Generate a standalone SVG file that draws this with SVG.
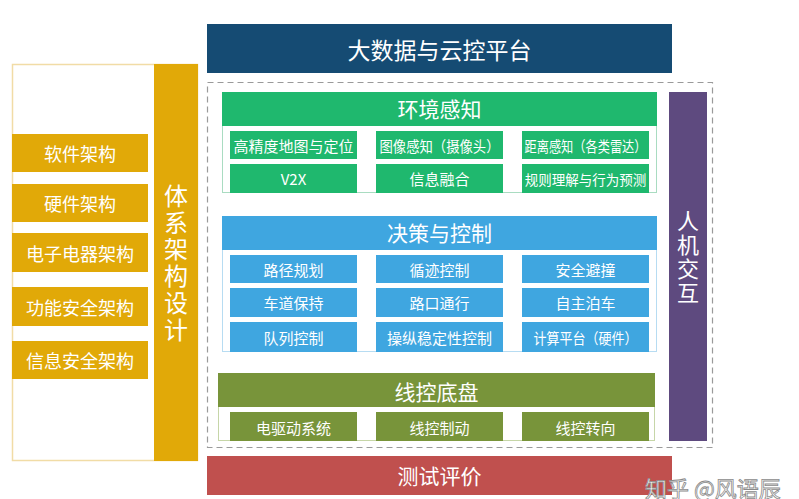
<svg xmlns="http://www.w3.org/2000/svg" width="799" height="499" viewBox="0 0 799 499">
<style>
text{font-family:"Noto Sans CJK SC","Noto Sans",sans-serif;fill:#fff;text-anchor:middle;dominant-baseline:central}
.h{font-size:21px}
.s{font-size:15px}
.l{font-size:18px}
.vt{writing-mode:vertical-rl;text-orientation:upright}
.g{fill:#1fb86e}
.b{fill:#3fa6e0}
.o{fill:#78943a}
.y{fill:#e1a908}
</style>
<rect width="799" height="499" fill="#fff"/>
<g id="arch">
<rect x="12.5" y="64.5" width="185" height="396" fill="#fff" stroke="#f1dca6" stroke-width="1.5"/>
<rect class="y" x="154" y="64" width="44" height="397"/>
<text class="vt" x="176" y="264" style="font-size:24px;letter-spacing:2.7px">体系架构设计</text>
</g>
<g id="soft"><rect class="y" x="12" y="134" width="136" height="38"/><text class="l" x="80" y="153">软件架构</text></g>
<g id="hard"><rect class="y" x="12" y="184" width="136" height="38"/><text class="l" x="80" y="203">硬件架构</text></g>
<g id="ee"><rect class="y" x="12" y="233" width="136" height="39"/><text class="l" x="80" y="252.5">电子电器架构</text></g>
<g id="fs"><rect class="y" x="12" y="287" width="136" height="39"/><text class="l" x="80" y="306.5">功能安全架构</text></g>
<g id="is"><rect class="y" x="12" y="341" width="136" height="38"/><text class="l" x="80" y="360">信息安全架构</text></g>

<g id="cloud"><rect x="207" y="24" width="465" height="49" fill="#154b73"/><text x="439.5" y="48.5" style="font-size:23px">大数据与云控平台</text></g>

<rect x="207.5" y="82.5" width="505" height="365" fill="none" stroke="#9a9a9a" stroke-width="1.2" stroke-dasharray="6 4"/>

<g id="perception">
<rect x="222.5" y="92.5" width="434" height="100" fill="#fff" stroke="#a9dcc1"/>
<rect class="g" x="222" y="92" width="435" height="34"/>
<text class="h" x="439.5" y="108">环境感知</text>
<rect class="g" x="230" y="131" width="127" height="28"/><text class="s" x="293.5" y="145">高精度地图与定位</text>
<rect class="g" x="376" y="131" width="127" height="28"/><text class="s" x="439.5" y="145" textLength="120" lengthAdjust="spacingAndGlyphs">图像感知（摄像头）</text>
<rect class="g" x="522" y="131" width="127" height="28"/><text class="s" x="585.5" y="145" textLength="122" lengthAdjust="spacingAndGlyphs">距离感知（各类雷达）</text>
<rect class="g" x="230" y="164" width="127" height="29"/><text class="s" x="293.5" y="178.5">V2X</text>
<rect class="g" x="376" y="164" width="127" height="29"/><text class="s" x="439.5" y="178.5">信息融合</text>
<rect class="g" x="522" y="164" width="127" height="29"/><text x="585.5" y="178.5" style="font-size:13.5px">规则理解与行为预测</text>
</g>

<g id="decision">
<rect x="222.5" y="216.5" width="434" height="135" fill="#fff" stroke="#b7dcf2"/>
<rect class="b" x="222" y="216" width="435" height="34"/>
<text class="h" x="439.5" y="232">决策与控制</text>
<rect class="b" x="230" y="255" width="127" height="28"/><text class="s" x="293.5" y="269">路径规划</text>
<rect class="b" x="376" y="255" width="127" height="28"/><text class="s" x="439.5" y="269">循迹控制</text>
<rect class="b" x="522" y="255" width="127" height="28"/><text class="s" x="585.5" y="269">安全避撞</text>
<rect class="b" x="230" y="288" width="127" height="29"/><text class="s" x="293.5" y="302.5">车道保持</text>
<rect class="b" x="376" y="288" width="127" height="29"/><text class="s" x="439.5" y="302.5">路口通行</text>
<rect class="b" x="522" y="288" width="127" height="29"/><text class="s" x="585.5" y="302.5">自主泊车</text>
<rect class="b" x="230" y="322" width="127" height="30"/><text class="s" x="293.5" y="337">队列控制</text>
<rect class="b" x="376" y="322" width="127" height="30"/><text class="s" x="439.5" y="337">操纵稳定性控制</text>
<rect class="b" x="522" y="322" width="127" height="30"/><text class="s" x="585.5" y="337" textLength="104" lengthAdjust="spacingAndGlyphs">计算平台（硬件）</text>
</g>

<g id="chassis">
<rect x="218.5" y="373.5" width="436" height="67" fill="#fff" stroke="#c6d6a8"/>
<rect class="o" x="218" y="373" width="437" height="34"/>
<text class="h" x="436.5" y="391">线控底盘</text>
<rect class="o" x="230" y="412" width="127" height="29"/><text class="s" x="293.5" y="427">电驱动系统</text>
<rect class="o" x="376" y="412" width="127" height="29"/><text class="s" x="439.5" y="427">线控制动</text>
<rect class="o" x="522" y="412" width="127" height="29"/><text class="s" x="585.5" y="427">线控转向</text>
</g>

<g id="hmi">
<rect x="669" y="92" width="38" height="349" fill="#5e4a7f"/>
<text class="vt" x="688" y="258" style="font-size:22px;letter-spacing:2px">人机交互</text>
</g>

<g id="test"><rect x="207" y="456" width="465" height="39" fill="#c0504e"/><text class="h" x="439.5" y="475">测试评价</text></g>

<text x="645" y="487" style="font-size:22px;text-anchor:start;stroke:#8a8a8a;stroke-width:0.8;fill:#fff">知乎 @风语辰</text>
</svg>
